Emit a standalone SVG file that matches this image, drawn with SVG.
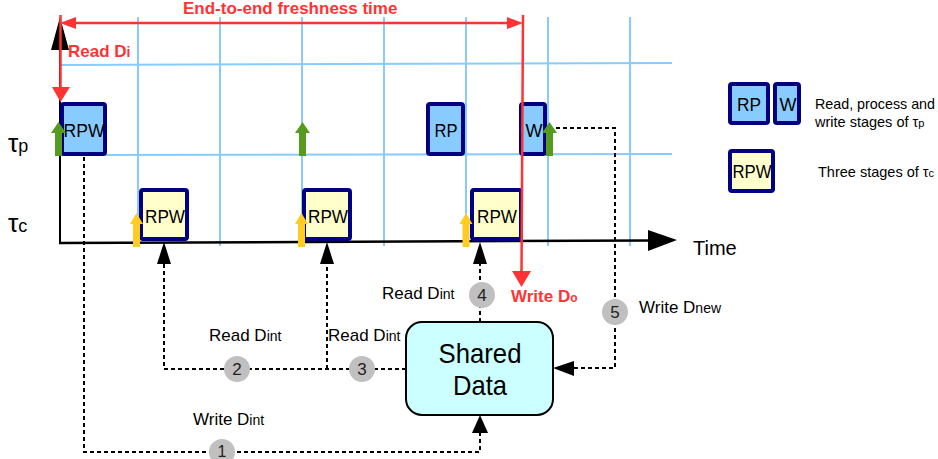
<svg xmlns="http://www.w3.org/2000/svg" width="938" height="459" viewBox="0 0 938 459">
<style>
text{font-family:"Liberation Sans",Arial,sans-serif;fill:#000}
.grid{stroke:#88CCFF;stroke-width:2;fill:none}
.pbox{fill:#88CCFF;stroke:#000080;stroke-width:4}
.cbox{fill:#FFFFCC;stroke:#000080;stroke-width:4}
.box{font-size:18px;text-anchor:middle}
.red{fill:#FF3333;font-weight:bold}
.dash{stroke:#000;stroke-width:2;stroke-dasharray:4 3;fill:none}
.circ{fill:#C0C0C0}
.num{font-size:17px;text-anchor:middle;fill:#222}
.lbl{font-size:17px}
.sub{font-size:14px}
.green{fill:#569A1E}
.yellow{fill:#FFCC22}
</style>
<g id="grid">
<line class="grid" x1="138" y1="17" x2="138" y2="246"/>
<line class="grid" x1="220" y1="17" x2="220" y2="246"/>
<line class="grid" x1="302" y1="17" x2="302" y2="246"/>
<line class="grid" x1="384" y1="17" x2="384" y2="246"/>
<line class="grid" x1="466" y1="17" x2="466" y2="246"/>
<line class="grid" x1="548" y1="17" x2="548" y2="246"/>
<line class="grid" x1="630" y1="17" x2="630" y2="246"/>
<line class="grid" x1="60" y1="65" x2="672" y2="63"/>
<line class="grid" x1="60" y1="155" x2="672" y2="154"/>
</g>
<g id="axes">
<line x1="60" y1="243" x2="60" y2="48" stroke="#000" stroke-width="2"/>
<polygon points="60,17 51,50 69,50" fill="#000"/>
<line x1="59" y1="243" x2="650" y2="240.5" stroke="#000" stroke-width="2.5"/>
<polygon points="677,240 648,230 648,251" fill="#000"/>
<text x="693" y="255" style="font-size:20px">Time</text>
<text x="8" y="152" style="font-size:26px">τ<tspan style="font-size:18px">p</tspan></text>
<text x="8" y="232" style="font-size:26px">τ<tspan style="font-size:18px">c</tspan></text>
</g>
<g id="connectors">
<path class="dash" d="M84,157 V452 H480 V432"/>
<polygon points="480,415 472,433 488,433" fill="#000"/>
<path class="dash" d="M406,369 H164 V262"/>
<polygon points="164,242 157,264 171,264" fill="#000"/>
<path class="dash" d="M327,369 V262"/>
<polygon points="327,242 320,264 334,264" fill="#000"/>
<path class="dash" d="M480,322 V262"/>
<polygon points="480,242 473,264 487,264" fill="#000"/>
<path class="dash" d="M556,128 H615 V368 H574"/>
<polygon points="553,368 574,361 574,376" fill="#000"/>
</g>
<g id="tp-rpw">
<rect class="pbox" x="62" y="104" width="43" height="50" rx="2"/>
<text class="box" x="84" y="137" textLength="41" lengthAdjust="spacingAndGlyphs">RPW</text>
</g>
<g id="tp-rp">
<rect class="pbox" x="428" y="104" width="35" height="50" rx="2"/>
<text class="box" x="446" y="137" textLength="23" lengthAdjust="spacingAndGlyphs">RP</text>
</g>
<g id="tp-w">
<rect class="pbox" x="521" y="104" width="24" height="50" rx="2"/>
<text class="box" x="534" y="137">W</text>
</g>
<g id="tc-rpw1">
<rect class="cbox" x="141" y="190" width="46" height="49" rx="2"/>
<text class="box" x="165" y="223" textLength="40" lengthAdjust="spacingAndGlyphs">RPW</text>
</g>
<g id="tc-rpw2">
<rect class="cbox" x="304" y="190" width="46" height="49" rx="2"/>
<text class="box" x="328" y="223" textLength="40" lengthAdjust="spacingAndGlyphs">RPW</text>
</g>
<g id="tc-rpw3">
<rect class="cbox" x="472" y="190" width="49" height="49" rx="2"/>
<text class="box" x="497" y="223" textLength="40" lengthAdjust="spacingAndGlyphs">RPW</text>
</g>
<g id="triggers">
<polygon class="green" points="58.5,122 51,133 55,133 55,156 62,156 62,133 66,133"/>
<polygon class="green" points="302.5,122 295,133 299,133 299,156 306,156 306,133 310,133"/>
<polygon class="green" points="549.5,122 542,133 546,133 546,156 553,156 553,133 557,133"/>
<polygon class="yellow" points="136.5,213 130,224 133,224 133,247 140,247 140,224 143,224"/>
<polygon class="yellow" points="301.5,213 295,224 298,224 298,247 305,247 305,224 308,224"/>
<polygon class="yellow" points="466,213 459.5,224 462.5,224 462.5,247 469.5,247 469.5,224 472.5,224"/>
</g>
<g id="freshness">
<line x1="75" y1="23" x2="510" y2="23" stroke="#FF3333" stroke-width="2.5"/>
<polygon points="60,23 76,17 76,29" fill="#FF3333"/>
<polygon points="523,23 507,17 507,29" fill="#FF3333"/>
<text class="red" x="183" y="14" style="font-size:17px">End-to-end freshness time</text>
<line x1="60.5" y1="15" x2="60.5" y2="90" stroke="#FF3333" stroke-width="2.5"/>
<polygon points="60.5,102 52,87 70,87" fill="#FF3333"/>
<text class="red" x="68" y="57" style="font-size:17px">Read D<tspan style="font-size:14px">i</tspan></text>
<line x1="523" y1="15" x2="521.5" y2="274" stroke="#FF3333" stroke-width="2.5"/>
<polygon points="521.5,287 512,271 531,271" fill="#FF3333"/>
<text class="red" x="511" y="302" style="font-size:17px">Write D<tspan style="font-size:12px">o</tspan></text>
</g>
<g id="shared-data">
<rect x="406" y="322" width="147" height="93" rx="16" fill="#CCFFFF" stroke="#000" stroke-width="2"/>
<text x="480" y="363" text-anchor="middle" style="font-size:28px" textLength="83" lengthAdjust="spacingAndGlyphs">Shared</text>
<text x="480" y="395" text-anchor="middle" style="font-size:28px" textLength="54" lengthAdjust="spacingAndGlyphs">Data</text>
</g>
<g id="step1">
<circle class="circ" cx="222" cy="452" r="13"/>
<text class="num" x="222" y="457" style="font-size:16px">1</text>
<text class="lbl" x="193" y="425">Write D<tspan class="sub">int</tspan></text>
</g>
<g id="step2">
<circle class="circ" cx="237" cy="369" r="13"/>
<text class="num" x="237" y="375">2</text>
<text class="lbl" x="209" y="341">Read D<tspan class="sub">int</tspan></text>
</g>
<g id="step3">
<circle class="circ" cx="362" cy="369" r="13"/>
<text class="num" x="362" y="375">3</text>
<text class="lbl" x="328" y="341">Read D<tspan class="sub">int</tspan></text>
</g>
<g id="step4">
<circle class="circ" cx="482" cy="295" r="13"/>
<text class="num" x="482" y="301">4</text>
<text class="lbl" x="382" y="299">Read D<tspan class="sub">int</tspan></text>
</g>
<g id="step5">
<circle class="circ" cx="615" cy="312" r="13"/>
<text class="num" x="615" y="318">5</text>
<text class="lbl" x="639" y="313">Write D<tspan class="sub">new</tspan></text>
</g>
<g id="legend">
<rect class="pbox" x="730" y="84" width="38" height="39" rx="2"/>
<text class="box" x="749" y="111" textLength="24" lengthAdjust="spacingAndGlyphs">RP</text>
<rect class="pbox" x="775" y="84" width="24" height="39" rx="2"/>
<text class="box" x="788" y="111">W</text>
<rect class="cbox" x="730" y="151" width="43" height="40" rx="2"/>
<text class="box" x="752" y="178" textLength="39" lengthAdjust="spacingAndGlyphs">RPW</text>
<text x="815" y="109" style="font-size:14.5px" textLength="120" lengthAdjust="spacingAndGlyphs">Read, process and</text>
<text x="815" y="127" style="font-size:14.5px">write stages of τ<tspan style="font-size:11px">p</tspan></text>
<text x="818" y="177" style="font-size:14.5px">Three stages of τ<tspan style="font-size:11px">c</tspan></text>
</g>
</svg>
